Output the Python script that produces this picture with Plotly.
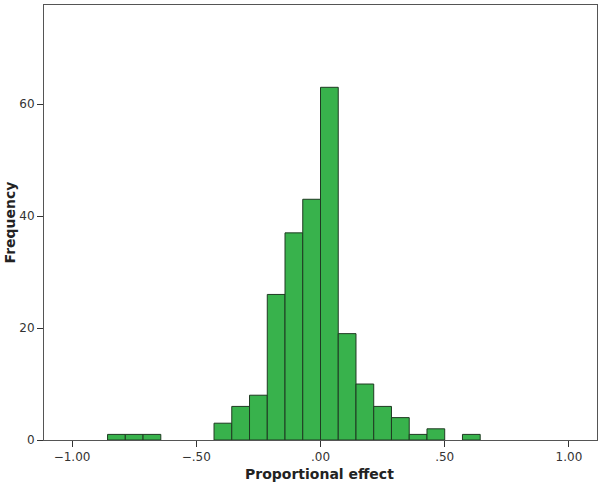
import plotly.graph_objects as go

# Histogram data: bin lower edges (bin width 1/14) and counts
bin_width = 1 / 14
bin_left = [-12/14, -11/14, -10/14, -9/14, -8/14, -7/14, -6/14, -5/14, -4/14, -3/14,
            -2/14, -1/14, 0/14, 1/14, 2/14, 3/14, 4/14, 5/14, 6/14, 7/14, 8/14]
counts = [1, 1, 1, 0, 0, 0, 3, 6, 8, 26, 37, 43, 63, 19, 10, 6, 4, 1, 2, 0, 1]

x_tickvals = [-1.0, -0.5, 0.0, 0.5, 1.0]
x_ticktext = ["\u22121.00", "\u2212.50", ".00", ".50", "1.00"]
y_tickvals = [0, 20, 40, 60]

centers = [b + bin_width / 2 for b in bin_left]
xs = [c for c, n in zip(centers, counts) if n > 0]
ys = [n for n in counts if n > 0]

fig = go.Figure(go.Bar(
    x=xs, y=ys, width=bin_width,
    marker=dict(color="#38b24c", line=dict(color="#1f3a22", width=1)),
))

font_family = "DejaVu Sans"
fig.update_layout(
    width=602, height=484,
    margin=dict(l=44, r=5, t=5, b=44),
    paper_bgcolor="white", plot_bgcolor="white",
    showlegend=False,
    font=dict(family=font_family, size=12, color="#333333"),
)
fig.update_xaxes(
    range=[-1.113, 1.113], tickvals=x_tickvals, ticktext=x_ticktext,
    showgrid=False, zeroline=False, showline=True, linecolor="#555555", linewidth=1,
    mirror=True, ticks="outside", ticklen=6, tickcolor="#333333",
)
fig.update_yaxes(
    range=[0, 77.7], tickvals=y_tickvals,
    showgrid=False, zeroline=False, showline=True, linecolor="#555555", linewidth=1,
    mirror=True, ticks="outside", ticklen=6, tickcolor="#333333",
)
fig.add_annotation(text="<b>Frequency</b>", xref="paper", yref="paper",
                   x=-35/553, y=0.5, xanchor="center", yanchor="middle",
                   textangle=-90, showarrow=False,
                   font=dict(family=font_family, size=14, color="#222222"))
fig.add_annotation(text="<b>Proportional effect</b>", xref="paper", yref="paper",
                   x=0.499, y=-34/435, xanchor="center", yanchor="middle",
                   showarrow=False,
                   font=dict(family=font_family, size=14, color="#222222"))

fig.write_html("out.html")
